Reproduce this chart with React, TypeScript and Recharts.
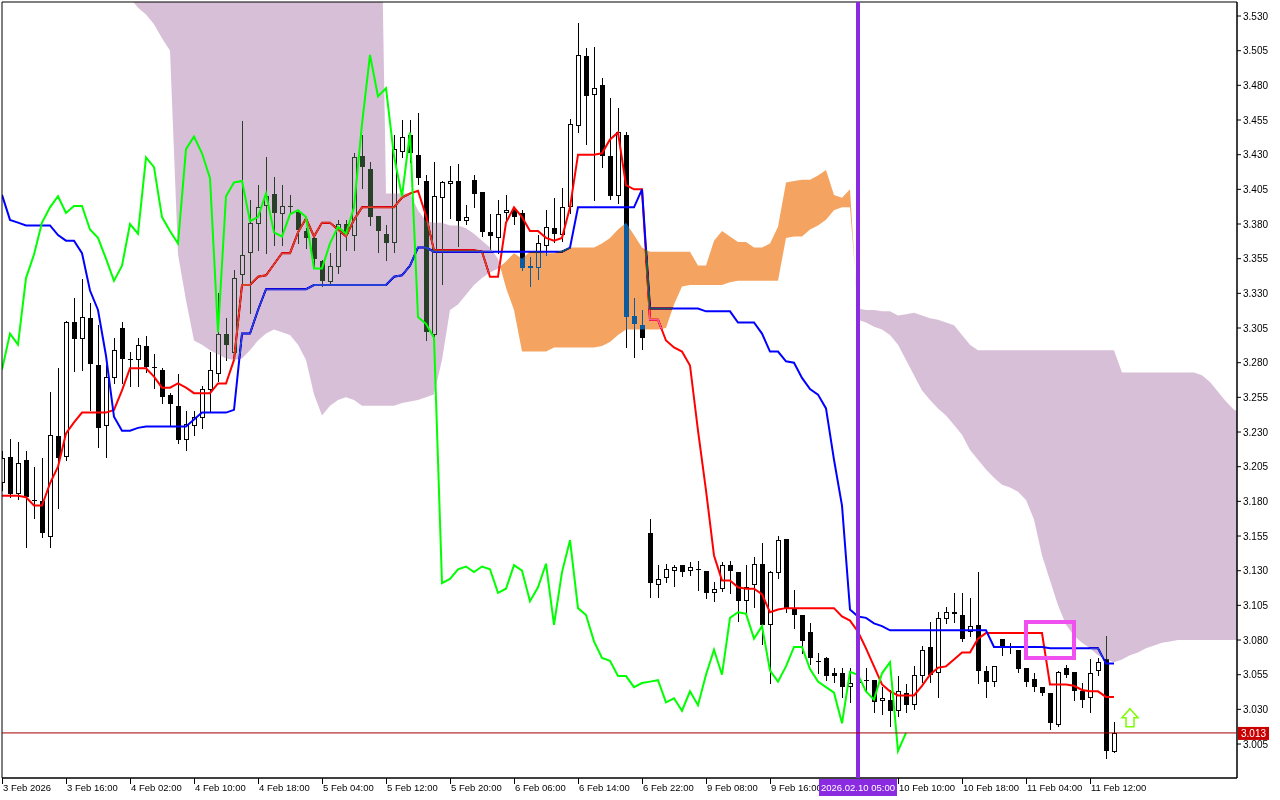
import React from "react";
import {
  ComposedChart,
  Bar,
  Line,
  Area,
  XAxis,
  YAxis,
  CartesianGrid,
  ReferenceLine,
  ReferenceArea,
  ReferenceDot,
} from "recharts";

const FONT = "'Liberation Sans', Arial, sans-serif";

// H1 bars, index = position on the time axis
const OPEN = [
  3.193, 3.212, 3.185, 3.210, 3.181, 3.180, 3.154, 3.227, 3.212, 3.309,
  3.297, 3.312, 3.278, 3.234, 3.269, 3.305, 3.283, 3.282, 3.292, 3.277,
  3.275, 3.257, 3.249, 3.224, 3.234, 3.240, 3.260, 3.272, 3.301, 3.287,
  3.343, 3.359, 3.380, 3.393, 3.402, 3.387, 3.392, 3.389, 3.375, 3.370,
  3.353, 3.338, 3.349, 3.380, 3.371, 3.429, 3.420, 3.386, 3.373, 3.366,
  3.432, 3.444, 3.430, 3.411, 3.300, 3.399, 3.409, 3.411, 3.382, 3.412,
  3.403, 3.374, 3.370, 3.388, 3.390, 3.388, 3.350, 3.348, 3.364, 3.377,
  3.372, 3.392, 3.451, 3.501, 3.473, 3.480, 3.429, 3.400, 3.444, 3.314,
  3.307, 3.157, 3.120, 3.125, 3.130, 3.134, 3.130, 3.131, 3.130, 3.114,
  3.117, 3.134, 3.129, 3.108, 3.120, 3.135, 3.091, 3.128, 3.153, 3.103,
  3.098, 3.086, 3.065, 3.067, 3.056, 3.056, 3.046, 3.049, 3.051, 3.051,
  3.036, 3.037, 3.029, 3.042, 3.033, 3.054, 3.075, 3.056, 3.095, 3.100,
  3.098, 3.086, 3.091, 3.058, 3.050, 3.081, 3.075, 3.073, 3.060, 3.052,
  3.046, 3.042, 3.019, 3.060, 3.057, 3.043, 3.038, 3.058, 3.066, 2.999,
];
const HIGH = [
  3.216, 3.225, 3.223, 3.216, 3.205, 3.211, 3.259, 3.276, 3.310, 3.327,
  3.340, 3.323, 3.307, 3.278, 3.298, 3.309, 3.288, 3.298, 3.299, 3.286,
  3.276, 3.258, 3.272, 3.245, 3.245, 3.263, 3.288, 3.330, 3.312, 3.347,
  3.454, 3.397, 3.408, 3.428, 3.414, 3.408, 3.401, 3.390, 3.377, 3.372,
  3.354, 3.359, 3.383, 3.383, 3.431, 3.444, 3.425, 3.386, 3.379, 3.444,
  3.455, 3.455, 3.460, 3.415, 3.425, 3.411, 3.422, 3.423, 3.394, 3.415,
  3.403, 3.387, 3.397, 3.401, 3.392, 3.390, 3.356, 3.372, 3.390, 3.399,
  3.406, 3.456, 3.525, 3.507, 3.508, 3.485, 3.471, 3.464, 3.446, 3.327,
  3.318, 3.167, 3.134, 3.135, 3.134, 3.134, 3.136, 3.137, 3.130, 3.122,
  3.136, 3.137, 3.129, 3.134, 3.140, 3.150, 3.130, 3.155, 3.153, 3.116,
  3.098, 3.092, 3.071, 3.068, 3.060, 3.060, 3.060, 3.062, 3.060, 3.051,
  3.046, 3.044, 3.054, 3.048, 3.061, 3.076, 3.093, 3.100, 3.104, 3.114,
  3.114, 3.110, 3.129, 3.061, 3.061, 3.081, 3.078, 3.073, 3.060, 3.056,
  3.046, 3.042, 3.058, 3.062, 3.057, 3.049, 3.066, 3.067, 3.083, 3.021,
];
const LOW = [
  3.188, 3.183, 3.182, 3.147, 3.168, 3.154, 3.147, 3.175, 3.210, 3.274,
  3.275, 3.246, 3.219, 3.212, 3.265, 3.265, 3.263, 3.263, 3.273, 3.262,
  3.251, 3.235, 3.222, 3.217, 3.228, 3.233, 3.245, 3.267, 3.282, 3.286,
  3.337, 3.316, 3.361, 3.359, 3.365, 3.365, 3.387, 3.366, 3.363, 3.349,
  3.335, 3.337, 3.345, 3.361, 3.361, 3.406, 3.379, 3.360, 3.354, 3.360,
  3.428, 3.425, 3.409, 3.296, 3.299, 3.337, 3.384, 3.364, 3.380, 3.392,
  3.371, 3.362, 3.359, 3.383, 3.380, 3.347, 3.335, 3.340, 3.358, 3.367,
  3.368, 3.388, 3.446, 3.438, 3.397, 3.421, 3.398, 3.395, 3.291, 3.284,
  3.290, 3.111, 3.111, 3.122, 3.119, 3.126, 3.127, 3.116, 3.110, 3.108,
  3.115, 3.114, 3.094, 3.100, 3.104, 3.077, 3.049, 3.125, 3.100, 3.089,
  3.071, 3.063, 3.056, 3.051, 3.050, 3.039, 3.035, 3.044, 3.044, 3.028,
  3.027, 3.018, 3.025, 3.028, 3.030, 3.050, 3.050, 3.039, 3.092, 3.093,
  3.079, 3.083, 3.049, 3.039, 3.047, 3.069, 3.071, 3.057, 3.047, 3.043,
  3.040, 3.016, 3.018, 3.053, 3.037, 3.032, 3.028, 3.055, 2.995, 2.999,
];
const CLOSE = [
  3.211, 3.185, 3.208, 3.183, 3.181, 3.157, 3.228, 3.211, 3.309, 3.297,
  3.313, 3.279, 3.233, 3.270, 3.289, 3.283, 3.283, 3.293, 3.277, 3.277,
  3.255, 3.250, 3.224, 3.236, 3.241, 3.261, 3.275, 3.301, 3.293, 3.341,
  3.358, 3.381, 3.392, 3.400, 3.388, 3.393, 3.393, 3.376, 3.370, 3.355,
  3.339, 3.350, 3.380, 3.373, 3.428, 3.421, 3.385, 3.375, 3.366, 3.434,
  3.443, 3.431, 3.413, 3.302, 3.400, 3.410, 3.411, 3.382, 3.385, 3.402,
  3.374, 3.371, 3.387, 3.390, 3.385, 3.348, 3.348, 3.366, 3.378, 3.373,
  3.392, 3.452, 3.502, 3.472, 3.478, 3.429, 3.400, 3.446, 3.313, 3.308,
  3.298, 3.121, 3.124, 3.131, 3.133, 3.129, 3.133, 3.131, 3.114, 3.117,
  3.134, 3.130, 3.108, 3.118, 3.135, 3.091, 3.129, 3.152, 3.103, 3.098,
  3.079, 3.067, 3.065, 3.054, 3.054, 3.046, 3.049, 3.050, 3.051, 3.035,
  3.038, 3.029, 3.043, 3.033, 3.055, 3.073, 3.055, 3.096, 3.100, 3.099,
  3.081, 3.090, 3.058, 3.050, 3.061, 3.075, 3.075, 3.059, 3.050, 3.046,
  3.042, 3.020, 3.057, 3.055, 3.043, 3.037, 3.056, 3.064, 3.000, 3.013,
];

// Ichimoku lines
const TENKAN = [
  3.184, 3.184, 3.184, 3.183, 3.177, 3.177, 3.193, 3.205, 3.229, 3.237,
  3.244, 3.244, 3.244, 3.244, 3.246, 3.260, 3.276, 3.276, 3.276, 3.270,
  3.262, 3.262, 3.265, 3.262, 3.258, 3.258, 3.258, 3.265, 3.265, 3.282,
  3.336, 3.336, 3.342, 3.343, 3.351, 3.359, 3.359, 3.374, 3.384, 3.371,
  3.381, 3.381, 3.376, 3.371, 3.383, 3.392, 3.392, 3.392, 3.392, 3.392,
  3.399, 3.402, 3.404, 3.386, 3.361, 3.361, 3.361, 3.361, 3.361, 3.361,
  3.360, 3.342, 3.342, 3.381, 3.392, 3.385, 3.375, 3.375, 3.370, 3.368,
  3.370, 3.392, 3.430, 3.430, 3.430, 3.431, 3.441, 3.446, 3.408, 3.405,
  3.405, 3.311, 3.311, 3.296, 3.291, 3.288, 3.278, 3.231, 3.188, 3.141,
  3.123, 3.123, 3.118, 3.117, 3.117, 3.113, 3.100, 3.102, 3.103, 3.103,
  3.103, 3.103, 3.103, 3.103, 3.103, 3.097, 3.094, 3.086, 3.074, 3.061,
  3.048, 3.043, 3.040, 3.040, 3.040, 3.047, 3.055, 3.060, 3.061, 3.066,
  3.071, 3.071, 3.081, 3.085, 3.085, 3.085, 3.085, 3.085, 3.085, 3.085,
  3.085, 3.048, 3.048, 3.048, 3.047, 3.044, 3.043, 3.043, 3.039, 3.039,
];
const KIJUN = [
  3.401, 3.383, 3.381, 3.379, 3.379, 3.379, 3.379, 3.372, 3.368, 3.368,
  3.359, 3.332, 3.318, 3.285, 3.241, 3.231, 3.231, 3.233, 3.234, 3.234,
  3.234, 3.234, 3.234, 3.234, 3.239, 3.244, 3.244, 3.244, 3.244, 3.246,
  3.301, 3.301, 3.318, 3.333, 3.333, 3.333, 3.333, 3.333, 3.333, 3.336,
  3.336, 3.336, 3.336, 3.336, 3.336, 3.336, 3.336, 3.336, 3.336, 3.342,
  3.343, 3.350, 3.363, 3.363, 3.360, 3.360, 3.360, 3.360, 3.360, 3.360,
  3.360, 3.360, 3.360, 3.360, 3.360, 3.360, 3.360, 3.360, 3.360, 3.360,
  3.360, 3.363, 3.392, 3.392, 3.392, 3.392, 3.392, 3.392, 3.392, 3.392,
  3.405, 3.319, 3.319, 3.319, 3.319, 3.319, 3.319, 3.319, 3.317, 3.317,
  3.317, 3.317, 3.309, 3.309, 3.309, 3.301, 3.288, 3.288, 3.281, 3.280,
  3.269, 3.261, 3.257, 3.247, 3.210, 3.177, 3.102, 3.097, 3.096, 3.092,
  3.090, 3.087, 3.087, 3.087, 3.087, 3.087, 3.087, 3.087, 3.087, 3.087,
  3.087, 3.087, 3.087, 3.087, 3.075, 3.075, 3.075, 3.075, 3.075, 3.075,
  3.075, 3.074, 3.074, 3.074, 3.074, 3.074, 3.074, 3.074, 3.063, 3.063,
];
// Senkou spans, already shifted forward (run 26 bars past the last candle)
const SPAN_A = [
  3.565, 3.565, 3.565, 3.565, 3.565, 3.565, 3.565, 3.565, 3.565, 3.565,
  3.565, 3.565, 3.565, 3.565, 3.565, 3.565, 3.543, 3.536, 3.531, 3.524,
  3.514, 3.505, 3.358, 3.325, 3.296, 3.293, 3.289, 3.286, 3.283, 3.282,
  3.283, 3.289, 3.296, 3.301, 3.304, 3.302, 3.300, 3.293, 3.282, 3.257,
  3.242, 3.249, 3.253, 3.255, 3.253, 3.249, 3.249, 3.249, 3.249, 3.249,
  3.251, 3.252, 3.253, 3.255, 3.257, 3.282, 3.318, 3.322, 3.329, 3.336,
  3.341, 3.345, 3.348, 3.353, 3.359, 3.355, 3.360, 3.360, 3.359, 3.359,
  3.361, 3.363, 3.363, 3.363, 3.363, 3.366, 3.370, 3.376, 3.381, 3.372,
  3.363, 3.360, 3.360, 3.360, 3.360, 3.360, 3.360, 3.350, 3.350, 3.368,
  3.375, 3.371, 3.367, 3.367, 3.363, 3.363, 3.366, 3.378, 3.410, 3.411,
  3.412, 3.412, 3.415, 3.419, 3.401, 3.399, 3.405, 3.311, 3.309, 3.306,
  3.304, 3.300, 3.293, 3.282, 3.271, 3.260, 3.253, 3.247, 3.242, 3.235,
  3.228, 3.217, 3.210, 3.203, 3.197, 3.192, 3.190, 3.187, 3.181, 3.167,
  3.141, 3.123, 3.105, 3.091, 3.083, 3.078, 3.074, 3.069, 3.066, 3.064,
  3.066, 3.069, 3.071, 3.074, 3.076, 3.078, 3.079, 3.080, 3.080, 3.080,
  3.080, 3.080, 3.080, 3.080, 3.080, 3.080,
];
const SPAN_B = [
  3.750, 3.750, 3.750, 3.750, 3.750, 3.750, 3.750, 3.750, 3.750, 3.750,
  3.750, 3.750, 3.750, 3.750, 3.750, 3.750, 3.750, 3.750, 3.750, 3.750,
  3.750, 3.750, 3.750, 3.750, 3.750, 3.750, 3.750, 3.750, 3.750, 3.750,
  3.750, 3.750, 3.750, 3.750, 3.750, 3.750, 3.750, 3.750, 3.750, 3.750,
  3.750, 3.750, 3.750, 3.750, 3.750, 3.750, 3.750, 3.750, 3.402, 3.402,
  3.402, 3.402, 3.390, 3.382, 3.381, 3.381, 3.379, 3.379, 3.377, 3.373,
  3.368, 3.363, 3.355, 3.334, 3.318, 3.288, 3.288, 3.288, 3.288, 3.291,
  3.291, 3.291, 3.291, 3.291, 3.291, 3.292, 3.295, 3.300, 3.304, 3.304,
  3.304, 3.304, 3.304, 3.305, 3.322, 3.335, 3.336, 3.336, 3.336, 3.336,
  3.336, 3.338, 3.339, 3.339, 3.339, 3.339, 3.339, 3.339, 3.370, 3.371,
  3.371, 3.376, 3.379, 3.383, 3.390, 3.392, 3.392, 3.319, 3.318, 3.318,
  3.317, 3.317, 3.314, 3.315, 3.316, 3.314, 3.312, 3.311, 3.309, 3.307,
  3.300, 3.293, 3.289, 3.289, 3.289, 3.289, 3.289, 3.289, 3.289, 3.289,
  3.289, 3.289, 3.289, 3.289, 3.289, 3.289, 3.289, 3.289, 3.289, 3.289,
  3.273, 3.273, 3.273, 3.273, 3.273, 3.273, 3.273, 3.273, 3.273, 3.273,
  3.271, 3.266, 3.259, 3.252, 3.246, 3.244,
];
const CHIKOU_SHIFT = 26;

const TIME_TICKS = [0, 8, 16, 24, 32, 40, 48, 56, 64, 72, 80, 88, 96, 104, 112, 120, 128, 136];
const TIME_LABELS = [
  "3 Feb 2026", "3 Feb 16:00", "4 Feb 02:00", "4 Feb 10:00", "4 Feb 18:00", "5 Feb 04:00",
  "5 Feb 12:00", "5 Feb 20:00", "6 Feb 06:00", "6 Feb 14:00", "6 Feb 22:00", "9 Feb 08:00",
  "9 Feb 16:00", "10 Feb 02:00", "10 Feb 10:00", "10 Feb 18:00", "11 Feb 04:00", "11 Feb 12:00",
];
const PRICE_TICKS = [
  3.005, 3.03, 3.055, 3.08, 3.105, 3.13, 3.155, 3.18, 3.205, 3.23, 3.255,
  3.28, 3.305, 3.33, 3.355, 3.38, 3.405, 3.43, 3.455, 3.48, 3.505, 3.53,
];

const X_DOMAIN = [0, 154.375];
const Y_DOMAIN = [2.9805, 3.5401];
const VLINE_BAR = 107;
const VLINE_LABEL = "2026.02.10 05:00";
const LAST_PRICE = 3.013;
const BOX = { x1: 128, x2: 134, y1: 3.067, y2: 3.093 };
const ARROW = { x: 141, y: 3.024 };

// one row per bar, plus a row wherever span A and span B cross
const rows: any[] = [];
for (let i = 0; i < SPAN_A.length; i++) {
  const a = SPAN_A[i];
  const b = SPAN_B[i];
  const r: any = { x: i };
  if (i < CLOSE.length) {
    r.open = OPEN[i];
    r.high = HIGH[i];
    r.low = LOW[i];
    r.close = CLOSE[i];
    r.range = [LOW[i], HIGH[i]];
    r.tenkan = TENKAN[i];
    r.kijun = KIJUN[i];
  }
  if (i + CHIKOU_SHIFT < CLOSE.length) r.chikou = CLOSE[i + CHIKOU_SHIFT];
  if (a >= b) r.up = [b, a];
  else r.down = [a, b];
  rows.push(r);
  if (i + 1 < SPAN_A.length) {
    const d0 = a - b;
    const d1 = SPAN_A[i + 1] - SPAN_B[i + 1];
    if (d0 >= 0 !== d1 >= 0) {
      const t = d0 / (d0 - d1);
      const v = a + t * (SPAN_A[i + 1] - a);
      rows.push({ x: i + t, up: [v, v], down: [v, v] });
    }
  }
}

function Candle(props: any) {
  const { x, y, width, height, payload } = props;
  if (!payload || payload.open == null || !isFinite(y) || !isFinite(height)) return null;
  const { open, high, low, close } = payload;
  const ppu = height / (high - low);
  const py = (p: number) => y + (high - p) * ppu;
  const c = Math.round(x + width / 2);
  const top = Math.round(py(Math.max(open, close)));
  const bot = Math.round(py(Math.min(open, close)));
  const wTop = Math.round(py(high));
  const wBot = Math.round(py(low));
  let body;
  if (bot - top < 2) body = <rect x={c - 2} y={top} width={5} height={1} fill="#000" />;
  else if (close > open)
    body = (
      <rect x={c - 1.5} y={top + 0.5} width={4} height={bot - top - 1} fill="#fff" stroke="#000" />
    );
  else body = <rect x={c - 2} y={top} width={5} height={bot - top} fill="#000" />;
  return (
    <g shapeRendering="crispEdges">
      <line x1={c + 0.5} x2={c + 0.5} y1={wTop} y2={wBot + 1} stroke="#000" />
      {body}
    </g>
  );
}

function TimeTick(props: any) {
  const { x, y, payload } = props;
  const v = payload.value;
  if (v === VLINE_BAR) {
    return (
      <g>
        <rect x={x - 39} y={y + 1} width={78} height={17} fill="#8A2BE2" />
        <text x={x} y={y + 13} textAnchor="middle" fill="#fff" fontSize={9.5} fontFamily={FONT}>
          {VLINE_LABEL}
        </text>
      </g>
    );
  }
  const idx = TIME_TICKS.indexOf(v);
  return (
    <g>
      <line x1={x + 0.5} x2={x + 0.5} y1={y} y2={y + 6} stroke="#000" />
      <text x={x + 1} y={y + 13} fill="#000" fontSize={9.5} fontFamily={FONT}>
        {TIME_LABELS[idx]}
      </text>
    </g>
  );
}

function PriceTag(props: any) {
  const vb = props.viewBox || {};
  const x = vb.x + vb.width + 1;
  const y = vb.y;
  return (
    <g>
      <rect x={x} y={y - 6} width={31} height={13} fill="#C80000" />
      <text x={x + 3} y={y + 4} fill="#fff" fontSize={10} fontFamily={FONT}>
        {LAST_PRICE.toFixed(3)}
      </text>
    </g>
  );
}

function UpArrow(props: any) {
  const { cx, cy } = props;
  const pts = [
    [0, -9], [8, 0], [4, 0], [4, 9], [-4, 9], [-4, 0], [-8, 0],
  ]
    .map(([dx, dy]) => `${cx + dx},${cy + dy}`)
    .join(" ");
  return <polygon points={pts} fill="#fff" stroke="#7CFC00" strokeWidth={1.5} />;
}

export default function App() {
  // the purple time label hides the tick that falls under it
  const ticks = [...TIME_TICKS.filter((t) => Math.abs(t - VLINE_BAR) > 4), VLINE_BAR].sort(
    (a, b) => a - b
  );
  return (
    <div style={{ position: "absolute", left: 0, top: 0, width: 1280, height: 800, background: "#fff" }}>
      <style>{`.cloud { mix-blend-mode: difference; }`}</style>
      <ComposedChart
        width={1280}
        height={800}
        data={rows}
        margin={{ top: 2, right: 0, bottom: 0, left: 2 }}
      >
        <CartesianGrid horizontal={false} vertical={false} fill="#ffffff" />
        <XAxis
          type="number"
          dataKey="x"
          domain={X_DOMAIN}
          allowDataOverflow
          ticks={ticks}
          interval={0}
          height={22}
          tickSize={0}
          tickMargin={0}
          tickLine={false}
          axisLine={{ stroke: "#000" }}
          tick={<TimeTick />}
        />
        <YAxis
          type="number"
          orientation="right"
          domain={Y_DOMAIN}
          allowDataOverflow
          ticks={PRICE_TICKS}
          interval={0}
          width={43}
          tickSize={4}
          tickMargin={2}
          tickFormatter={(v: number) => v.toFixed(3)}
          tick={{ fontSize: 10, fill: "#000", fontFamily: FONT }}
          tickLine={{ stroke: "#000" }}
          axisLine={{ stroke: "#000" }}
        />
        <Bar
          dataKey="range"
          barSize={5}
          shape={(p: any) => <Candle {...p} />}
          isAnimationActive={false}
          zIndex={300}
        />
        <Line
          dataKey="tenkan"
          type="linear"
          stroke="#FF0000"
          strokeWidth={2}
          dot={false}
          activeDot={false}
          connectNulls
          isAnimationActive={false}
          zIndex={400}
        />
        <Line
          dataKey="kijun"
          type="linear"
          stroke="#0000FF"
          strokeWidth={2}
          dot={false}
          activeDot={false}
          connectNulls
          isAnimationActive={false}
          zIndex={400}
        />
        <Area
          className="cloud"
          dataKey="down"
          type="linear"
          fill="#274027"
          fillOpacity={1}
          stroke="none"
          dot={false}
          activeDot={false}
          isAnimationActive={false}
          zIndex={450}
        />
        <Area
          className="cloud"
          dataKey="up"
          type="linear"
          fill="#0B5B9F"
          fillOpacity={1}
          stroke="none"
          dot={false}
          activeDot={false}
          isAnimationActive={false}
          zIndex={450}
        />
        <Line
          dataKey="chikou"
          type="linear"
          stroke="#00FF00"
          strokeWidth={2}
          dot={false}
          activeDot={false}
          connectNulls
          isAnimationActive={false}
          zIndex={460}
        />
        <ReferenceArea
          x1={X_DOMAIN[0]}
          x2={X_DOMAIN[1]}
          y1={Y_DOMAIN[0]}
          y2={Y_DOMAIN[1]}
          fill="none"
          stroke="#000"
          ifOverflow="visible"
          zIndex={470}
        />
        <ReferenceLine x={VLINE_BAR} stroke="#8A2BE2" strokeWidth={4} zIndex={500} />
        <ReferenceLine y={LAST_PRICE} stroke="#A00000" strokeWidth={1} label={<PriceTag />} zIndex={510} />
        <ReferenceArea
          x1={BOX.x1}
          x2={BOX.x2}
          y1={BOX.y1}
          y2={BOX.y2}
          fill="none"
          fillOpacity={0}
          stroke="#F050F0"
          strokeWidth={4}
          zIndex={520}
        />
        <ReferenceDot x={ARROW.x} y={ARROW.y} r={9} shape={(p: any) => <UpArrow {...p} />} zIndex={530} />
      </ComposedChart>
    </div>
  );
}
